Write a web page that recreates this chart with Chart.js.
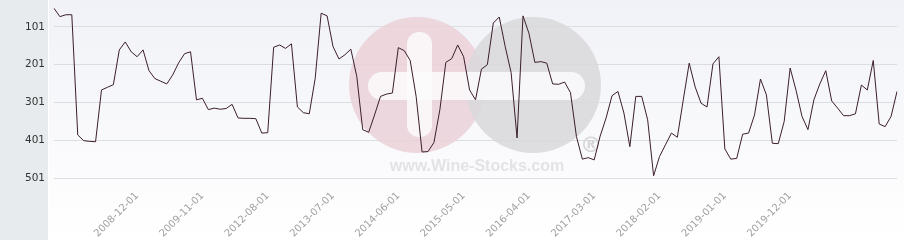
<!DOCTYPE html>
<html>
<head>
<meta charset="utf-8">
<script src="https://cdn.jsdelivr.net/npm/chart.js@4"></script>
<style>
  html, body { margin: 0; padding: 0; background: #fff; }
  #wrap { width: 904px; height: 240px; }
</style>
</head>
<body>
<div id="wrap"><canvas id="rankChart" width="904" height="240"></canvas></div>
<script>
// month runs: [first month, number of months]
const monthRuns = [["2007-10", 33], ["2012-05", 110]];
// rank values
const ranks = [
    52, 74, 69, 69, 387, 402, 404, 405, 268, 261, 254, 162, 141, 167, 180, 162, 217, 238, 245, 252, 228, 196, 172, 167,
    294, 290, 320, 316, 319, 317, 306, 342, 343, 343, 344, 382, 381, 155, 149, 158, 146, 313, 328, 331, 237, 65, 72,
    153, 186, 175, 160, 232, 373, 380, 334, 285, 279, 276, 156, 164, 190, 285, 432, 431, 407, 320, 195, 185, 149, 180,
    268, 294, 213, 201, 91, 75, 153, 222, 395, 72, 118, 195, 193, 197, 252, 253, 247, 275, 391, 451, 447, 453, 390,
    342, 283, 272, 329, 418, 285, 285, 347, 495, 444, 413, 382, 393, 294, 197, 260, 303, 313, 199, 180, 424, 451, 449, 385, 382,
    334, 239, 281, 409, 410, 351, 210, 269, 338, 373, 294, 252, 217, 297, 316, 336, 336, 331, 255, 268, 190, 358, 365, 338, 272
];
const yTicks = [101, 201, 301, 401, 501];
const shownLabels = ["2008-12-01", "2009-11-01", "2012-08-01", "2013-07-01", "2014-06-01", "2015-05-01",
    "2016-04-01", "2017-03-01", "2018-02-01", "2019-01-01", "2019-12-01"];

const months = [];
monthRuns.forEach((run) => {
    let y = Number(run[0].slice(0, 4));
    let m = Number(run[0].slice(5, 7));
    for (let i = 0; i < run[1]; i++) {
        months.push(y + "-" + String(m).padStart(2, "0") + "-01");
        m++;
        if (m > 12) { m = 1; y++; }
    }
});

// background, left strip and watermark
const backdrop = {
    id: "backdrop",
    beforeDraw(chart) {
        const ctx = chart.ctx;
        ctx.save();
        ctx.fillStyle = "#ffffff";
        ctx.fillRect(0, 0, 904, 240);
        const g = ctx.createLinearGradient(0, 0, 0, 240);
        g.addColorStop(0, "#f1f2f7");
        g.addColorStop(1, "#ffffff");
        ctx.fillStyle = g;
        ctx.fillRect(49, 0, 855, 240);
        ctx.fillStyle = "#e8ebee";
        ctx.fillRect(0, 0, 48, 240);
        ctx.restore();
    },
    beforeDatasetsDraw(chart) {
        const ctx = chart.ctx;
        ctx.save();
        ctx.globalAlpha = 0.85;
        ctx.fillStyle = "#ebd1d8";
        ctx.beginPath();
        ctx.arc(417, 85, 68, 0, Math.PI * 2);
        ctx.fill();
        ctx.fillStyle = "#d8d8da";
        ctx.beginPath();
        ctx.arc(533, 85, 68, 0, Math.PI * 2);
        ctx.fill();
        ctx.fillStyle = "#fbfbfd";
        ctx.beginPath();
        ctx.roundRect(407, 32, 25, 105, 12);
        ctx.fill();
        ctx.beginPath();
        ctx.roundRect(368, 72, 217, 28, 14);
        ctx.fill();
        ctx.globalAlpha = 1;
        ctx.fillStyle = "#e3e3e6";
        ctx.font = "bold 16px 'Liberation Sans'";
        ctx.textAlign = "center";
        ctx.textBaseline = "middle";
        ctx.fillText("www.Wine-Stocks.com", 477, 167);
        ctx.fillStyle = "#d6d6d9";
        ctx.font = "bold 22px 'DejaVu Sans'";
        ctx.fillText("®", 591, 146);
        ctx.restore();
    }
};

new Chart("rankChart", {
    type: "line",
    data: {
        labels: months,
        datasets: [{
            data: ranks,
            borderColor: "#3b1e2b",
            borderWidth: 1,
            pointRadius: 0,
            tension: 0,
            fill: false
        }]
    },
    options: {
        responsive: false,
        animation: false,
        layout: { padding: { top: 0, right: 7, left: 0, bottom: 0 } },
        plugins: {
            legend: { display: false },
            tooltip: { enabled: false }
        },
        scales: {
            x: {
                offset: false,
                grid: { display: false },
                border: { display: false },
                afterFit(scale) {
                    scale.height = 50;
                    scale.paddingLeft = 0;
                    scale.paddingRight = 0;
                },
                ticks: {
                    autoSkip: false,
                    maxRotation: 45,
                    minRotation: 45,
                    padding: -8,
                    color: "#a0a0a0",
                    font: { family: "DejaVu Sans", size: 10 },
                    callback: function (value, index) {
                        const lab = months[index];
                        return shownLabels.includes(lab) ? lab : "";
                    }
                }
            },
            y: {
                reverse: true,
                min: 30,
                max: 532.6,
                afterBuildTicks(scale) {
                    scale.ticks = yTicks.map((v) => ({ value: v }));
                },
                afterFit(scale) {
                    scale.width = 54;
                    scale.paddingTop = 0;
                    scale.paddingBottom = 0;
                },
                border: { display: false },
                grid: { color: "#dcdde3", drawTicks: false },
                ticks: {
                    padding: 9,
                    color: "#333333",
                    font: { family: "DejaVu Sans", size: 10.5 }
                }
            }
        }
    },
    plugins: [backdrop]
});
</script>
</body>
</html>
